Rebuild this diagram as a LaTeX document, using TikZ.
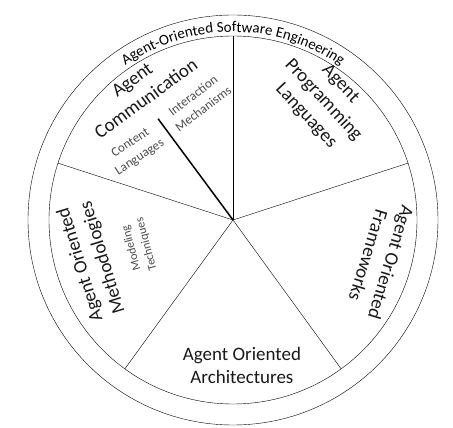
\documentclass[tikz,border=0pt]{standalone}
\usepackage{fontspec}
\setmainfont{Carlito}
\usetikzlibrary{decorations.text}
\tikzset{
    area/.style={font=\fontsize{19}{23.5}\selectfont, align=center, text=black!90},
    topic/.style={font=\fontsize{13}{17}\selectfont, align=center, text=black!70}
}
\begin{document}
\begin{tikzpicture}[x=1pt, y=1pt, thin]
        \useasboundingbox (-233, -208) rectangle (220, 220);
        \coordinate (O) at (0, 0);
        \draw (O) circle[radius=205];
        \draw (O) circle[radius=184];
        \foreach \a in {18, 90, ..., 306} {
            \draw (O) -- (\a:184);
        };
        \draw[line width=1.5pt] (O) -- (126.5:126);
        \path[decorate, decoration={text along path, text align=center,
            text={|\fontsize{15}{15}\selectfont|Agent-Oriented Software Engineering}}]
            (128:188) arc[start angle=128, end angle=52, radius=188];
        \node[area, rotate=36] (comm) at (125.7:161) {Agent\\Communication};
        \node[topic, rotate=37] (interact) at (106.5:123) {Interaction\\Mechanisms};
        \node[topic, rotate=33] (content) at (144.5:120) {Content\\Languages};
        \node[area, rotate=-47] (prog) at (53.1:150) {Agent\\Programming\\Languages};
        \node[area, rotate=-107] (frame) at (-14.9:152) {Agent Oriented\\Frameworks};
        \node[area] (arch) at (-86.5:146) {Agent Oriented\\Architectures};
        \node[area, rotate=107] (method) at (196.2:147) {Agent Oriented\\Methodologies};
        \node[topic, rotate=105, font=\fontsize{12}{15.5}\selectfont] (model) at (195.5:97.5) {Modeling\\Techniques};
    \end{tikzpicture}
\end{document}
